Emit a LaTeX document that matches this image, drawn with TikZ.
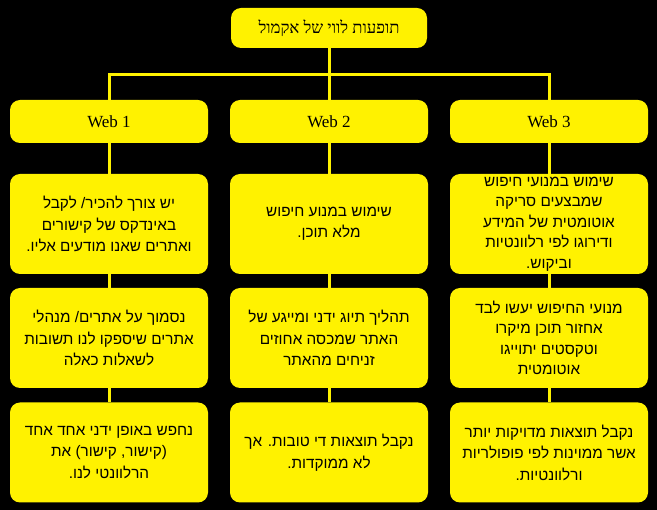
\documentclass[tikz,border=0pt]{standalone}
\usepackage{fontspec}
\setmainfont{Liberation Sans}
\newfontfamily\hebsans[Script=Hebrew]{Liberation Sans}
\newfontfamily\hebserif[Script=Hebrew]{Liberation Serif}
\TeXXeTstate=1
\newcommand{\rtlline}[1]{\beginR #1\endR}

\begin{document}
\begin{tikzpicture}[
        x=1pt, y=-1pt,
        box/.style={rectangle, rounded corners=10pt, fill=yellow, draw=none, text=black, align=center, inner sep=0pt},
        headbox/.style={box, minimum width=196pt, minimum height=40pt, font=\hebserif\fontsize{16.7}{19}\selectfont},
        webbox/.style={box, minimum width=198pt, minimum height=43pt, font=\hebserif\fontsize{17}{20}\selectfont},
        infobox/.style={box, minimum width=198pt, minimum height=100pt, font=\hebsans\fontsize{15.3}{21.5}\selectfont},
        link/.style={draw=yellow, line width=3pt}
    ]
        \fill[black] (0,0) rectangle (657,510);

        \node[headbox] (title) at (329,28) {\rtlline{תופעות לווי של אקמול}};

        \node[webbox] (web1) at (109,121.5) {Web 1};
        \node[webbox] (web2) at (329,121.5) {Web 2};
        \node[webbox] (web3) at (549,121.5) {Web 3};

        % Web 1
        \node[infobox] (find1) at (109,224) {\rtlline{יש צורך להכיר/ לקבל}\\ \rtlline{באינדקס של קישורים}\\ \rtlline{ואתרים שאנו מודעים אליו.}};
        \node[infobox] (source1) at (109,338) {\rtlline{נסמוך על אתרים/ מנהלי}\\ \rtlline{אתרים שיספקו לנו תשובות}\\ \rtlline{לשאלות כאלה}};
        \node[infobox] (result1) at (109,452.5) {\rtlline{נחפש באופן ידני אחד אחד}\\ \rtlline{(קישור, קישור) את}\\ \rtlline{הרלוונטי לנו.}};

        % Web 2
        \node[infobox] (find2) at (329,224) {\rtlline{שימוש במנוע חיפוש}\\ \rtlline{מלא תוכן.}};
        \node[infobox] (source2) at (329,338) {\rtlline{תהליך תיוג ידני ומייגע של}\\ \rtlline{האתר שמכסה אחוזים}\\ \rtlline{זניחים מהאתר}};
        \node[infobox] (result2) at (329,452.5) {\rtlline{נקבל תוצאות די טובות. אך}\\ \rtlline{לא ממוקדות.}};

        % Web 3
        \node[infobox, font=\hebsans\fontsize{15.3}{20.5}\selectfont] (find3) at (549,224) {\rtlline{שימוש במנועי חיפוש}\\ \rtlline{שמבצעים סריקה}\\ \rtlline{אוטומטית של המידע}\\ \rtlline{ודירוגו לפי רלוונטיות}\\ \rtlline{וביקוש.}};
        \node[infobox, font=\hebsans\fontsize{15.3}{20.5}\selectfont] (source3) at (549,338) {\rtlline{מנועי החיפוש יעשו לבד}\\ \rtlline{אחזור תוכן מיקרו}\\ \rtlline{וטקסטים יתוייגו}\\ \rtlline{אוטומטית}};
        \node[infobox] (result3) at (549,452.5) {\rtlline{נקבל תוצאות מדויקות יותר}\\ \rtlline{אשר ממוינות לפי פופולריות}\\ \rtlline{ורלוונטיות.}};

        \draw[link] (title) -- ++(0,47) -| (web1);
        \draw[link] (title) -- ++(0,47) -| (web3);
        \draw[link] (title) -- (web2);
        \foreach \col in {1,2,3} {
            \draw[link] (web\col) -- (find\col);
            \draw[link] (find\col) -- (source\col);
            \draw[link] (source\col) -- (result\col);
        }
    \end{tikzpicture}
\end{document}
